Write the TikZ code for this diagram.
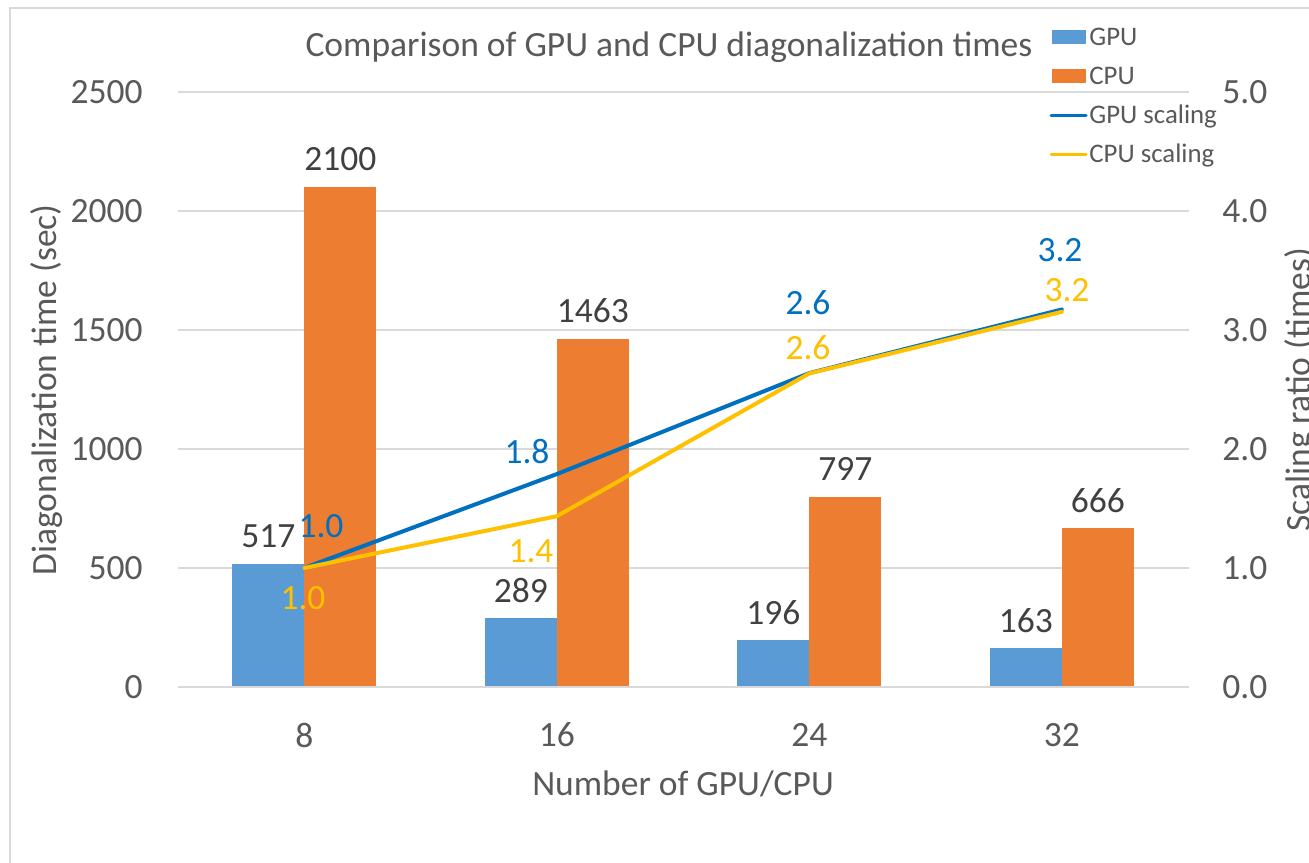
\documentclass[tikz,border=0pt]{standalone}
\usepackage{fontspec}
\setmainfont{Carlito}
\definecolor{axisgray}{HTML}{595959}
\definecolor{labelgray}{HTML}{404040}
\definecolor{gridgray}{HTML}{D9D9D9}
\definecolor{gpubar}{HTML}{5B9BD5}
\definecolor{cpubar}{HTML}{ED7D31}
\definecolor{gpuline}{HTML}{0070C0}
\definecolor{cpuline}{HTML}{FFC000}
\tikzset{
  txt/.style={font=\fontsize{17.75}{21}\selectfont, text=axisgray, inner sep=0pt},
  val/.style={txt, text=labelgray, anchor=center},
  gval/.style={txt, text=gpuline, anchor=center},
  cval/.style={txt, text=cpuline, anchor=center},
  legtxt/.style={font=\fontsize{13.4}{16}\selectfont, text=axisgray, inner sep=0pt, anchor=base west},
  grid line/.style={draw=gridgray, line width=0.75pt},
  gpu bar/.style={fill=gpubar},
  cpu bar/.style={fill=cpubar},
  gpu series/.style={draw=gpuline, line width=2pt, line join=round, line cap=round},
  cpu series/.style={draw=cpuline, line width=2pt, line join=round, line cap=round},
}
\begin{document}
\begin{tikzpicture}[x=0.5pt, y=-0.5pt]
\useasboundingbox (0,0) rectangle (1309,862);
\clip (0,0) rectangle (1309,862);
\fill[white] (0,0) rectangle (1309,862);
% chart frame
\draw[gridgray, line width=0.8pt] (10,880) -- (10,8) -- (1330,8);

% title
\node[txt, anchor=base] (title) at (669,56) {Comparison of GPU and CPU diagonalization times};

% horizontal grid and category axis
\foreach \v/\r [count=\i] in {500/1.0,1000/2.0,1500/3.0,2000/4.0,2500/5.0} {
  \path[grid line] (178,{687-\v*0.238}) -- (1189,{687-\v*0.238});
  \node[txt, anchor=east] (yl\i) at (143,{687-\v*0.238}) {\v};
  \node[txt, anchor=west] (yr\i) at (1222,{687-\v*0.238}) {\r};
}
\node[txt, anchor=east] (yl0) at (143,687) {0};
\node[txt, anchor=west] (yr0) at (1222,687) {0.0};

% bars
\foreach \c/\g/\p [count=\i] in {304.25/517/2100, 556.75/289/1463, 809.25/196/797, 1061.75/163/666} {
  \path[gpu bar] (\c-72,687) rectangle (\c,{687-\g*0.238});
  \path[cpu bar] (\c,687) rectangle (\c+72,{687-\p*0.238});
  \node[val] (gb\i) at (\c-36,{687-\g*0.238-28}) {\g};
  \node[val] (cb\i) at (\c+36,{687-\p*0.238-28}) {\p};
}
\draw[gridgray, line width=1pt] (178,687) -- (1189,687);

% category labels and axis titles
\node[txt] (x1) at (304.25,735) {8};
\node[txt] (x2) at (556.75,735) {16};
\node[txt] (x3) at (809.25,735) {24};
\node[txt] (x4) at (1061.75,735) {32};
\node[txt, anchor=base] (xtitle) at (683,795) {Number of GPU/CPU};
\node[txt, anchor=base, rotate=90] (ytitle) at (56,390) {Diagonalization time (sec)};
\node[txt, anchor=base, rotate=90] (y2title) at (1310,390) {Scaling ratio (times)};

% scaling ratio series
\coordinate (g1) at (304.25,568);
\coordinate (g2) at (556.75,474.1);
\coordinate (g3) at (809.25,373.1);
\coordinate (g4) at (1061.75,309.5);
\coordinate (c1) at (304.25,568);
\coordinate (c2) at (556.75,516.2);
\coordinate (c3) at (809.25,373.4);
\coordinate (c4) at (1061.75,311.8);
\draw[gpu series] (g1) -- (g2) -- (g3) -- (g4);
\draw[cpu series] (c1) -- (c2) -- (c3) -- (c4);

\node[gval] (gl1) at (321,526) {1.0};
\node[gval] (gl2) at (527,452) {1.8};
\node[gval] (gl3) at (808,303) {2.6};
\node[gval] (gl4) at (1060,250) {3.2};
\node[cval] (cl1) at (303,598) {1.0};
\node[cval] (cl2) at (531,551) {1.4};
\node[cval] (cl3) at (808,348) {2.6};
\node[cval] (cl4) at (1067,290) {3.2};

% legend
\path[gpu bar] (1052,30) rectangle (1086,44);
\path[cpu bar] (1052,69) rectangle (1086,83);
\coordinate (lg0) at (1051,115);
\coordinate (lg1) at (1086,115);
\coordinate (lc0) at (1051,154);
\coordinate (lc1) at (1086,154);
\draw[gpuline, line width=1.5pt, line cap=round] (lg0) -- (lg1);
\draw[cpuline, line width=1.5pt, line cap=round] (lc0) -- (lc1);
\node[legtxt] (leg1) at (1089,45) {GPU};
\node[legtxt] (leg2) at (1089,84) {CPU};
\node[legtxt] (leg3) at (1089,123) {GPU scaling};
\node[legtxt] (leg4) at (1089,162) {CPU scaling};
\end{tikzpicture}
\end{document}
